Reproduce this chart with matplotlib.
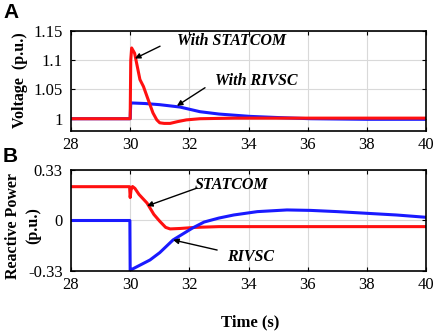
import matplotlib.pyplot as plt

plt.rcParams['font.family'] = ['Liberation Serif', 'DejaVu Serif']

# Voltage (p.u.)
t_v_statcom = [28, 30.0, 30.02, 30.05, 30.15, 30.33, 30.45, 30.57, 30.77, 30.9, 31.0, 31.15, 31.35, 31.6, 31.9, 32.36, 33.5, 36, 40]
v_statcom = [1.0, 1.0, 1.10, 1.121, 1.112, 1.067, 1.055, 1.038, 1.010, 0.998, 0.993, 0.992, 0.992, 0.995, 0.998, 1.0, 1.001, 1.001, 1.001]
t_v_rivsc = [28, 30.0, 30.02, 30.5, 31.0, 31.68, 32.36, 33.0, 34.05, 35.0, 36.1, 38, 40]
v_rivsc = [1.0, 1.0, 1.027, 1.026, 1.024, 1.020, 1.012, 1.008, 1.004, 1.002, 1.0, 0.999, 0.999]

# Reactive power (p.u.)
t_q_statcom = [28, 29.98, 30.0, 30.03, 30.08, 30.16, 30.3, 30.57, 30.8, 31.0, 31.2, 31.35, 31.7, 32.2, 33, 40]
q_statcom = [0.221, 0.221, 0.15, 0.20, 0.222, 0.21, 0.17, 0.114, 0.04, -0.005, -0.045, -0.055, -0.052, -0.045, -0.04, -0.04]
t_q_rivsc = [28, 29.99, 30.0, 30.05, 30.3, 30.67, 31.0, 31.45, 32.1, 32.5, 33.0, 33.5, 34.3, 35.3, 36.1, 37, 38.0, 39, 40]
q_rivsc = [0.0, 0.0, -0.33, -0.32, -0.295, -0.258, -0.21, -0.127, -0.05, -0.01, 0.016, 0.036, 0.058, 0.069, 0.066, 0.058, 0.047, 0.036, 0.021]

fig = plt.figure(figsize=(4.36, 3.31), dpi=100)
ax1 = fig.add_axes([71 / 436, 1 - 131 / 331, 355 / 436, 100 / 331])
ax2 = fig.add_axes([71 / 436, 1 - 271 / 331, 355 / 436, 101 / 331])

for ax in (ax1, ax2):
    ax.set_xlim(28, 40)
    ax.set_xticks([28, 30, 32, 34, 36, 38, 40])
    ax.grid(True, color='#d9d9d9', linewidth=0.8)
    ax.tick_params(direction='in', top=True, right=True, labelsize=12, length=3, pad=4)
    ax.tick_params(axis='y', pad=6)
    for s in ax.spines.values():
        s.set_linewidth(1.2)

ax1.plot(t_v_rivsc, v_rivsc, color='#1a1aff', lw=2.2)
ax1.plot(t_v_statcom, v_statcom, color='#ff1010', lw=2.2)
ax1.set_ylim(0.979, 1.15)
ax1.set_yticks([1, 1.05, 1.1, 1.15])
ax1.set_yticklabels(['1', '1.05', '1.1', '1.15'])

ax2.plot(t_q_statcom, q_statcom, color='#ff1010', lw=2.2)
ax2.plot(t_q_rivsc, q_rivsc, color='#1a1aff', lw=2.2)
ax2.set_ylim(-0.33, 0.33)
ax2.set_yticks([-0.33, 0, 0.33])
ax2.set_yticklabels(['-0.33', '0', '0.33'])

lab = dict(fontsize=11.5, fontweight='bold', rotation=90, ha='center', va='center')
fig.text(20 / 436, 1 - 80 / 331, 'Voltage  (p.u.)', **lab)
fig.text(13 / 436, 1 - 226 / 331, 'Reactive Power', **lab)
fig.text(33 / 436, 1 - 226 / 331, '(p.u.)', **lab)
fig.text(250 / 436, 1 - 322 / 331, 'Time (s)', ha='center', va='center', fontsize=12, fontweight='bold')

ann = dict(fontsize=11.5, fontweight='bold', fontstyle='italic', va='center', ha='left')
arr = dict(arrowstyle='-|>', color='black', lw=1.0, mutation_scale=8, shrinkA=0, shrinkB=0)

ax1.text(31.58, 1.133, 'With STATCOM', **ann)
ax1.annotate('', xy=(30.16, 1.103), xytext=(31.01, 1.124), arrowprops=arr)
ax1.text(32.87, 1.064, 'With RIVSC', **ann)
ax1.annotate('', xy=(31.58, 1.022), xytext=(32.53, 1.053), arrowprops=arr)
ax2.text(32.19, 0.232, 'STATCOM', **ann)
ax2.annotate('', xy=(30.57, 0.095), xytext=(32.26, 0.212), arrowprops=arr)
ax2.text(33.27, -0.239, 'RIVSC', **ann)
ax2.annotate('', xy=(31.45, -0.127), xytext=(32.94, -0.193), arrowprops=arr)

fig.text(3 / 436, 1 - 13 / 331, 'A', fontsize=15, fontweight='bold', family='Liberation Sans', va='center')
fig.text(3 / 436, 1 - 157 / 331, 'B', fontsize=15, fontweight='bold', family='Liberation Sans', va='center')

fig.savefig('out.png', dpi=100)
